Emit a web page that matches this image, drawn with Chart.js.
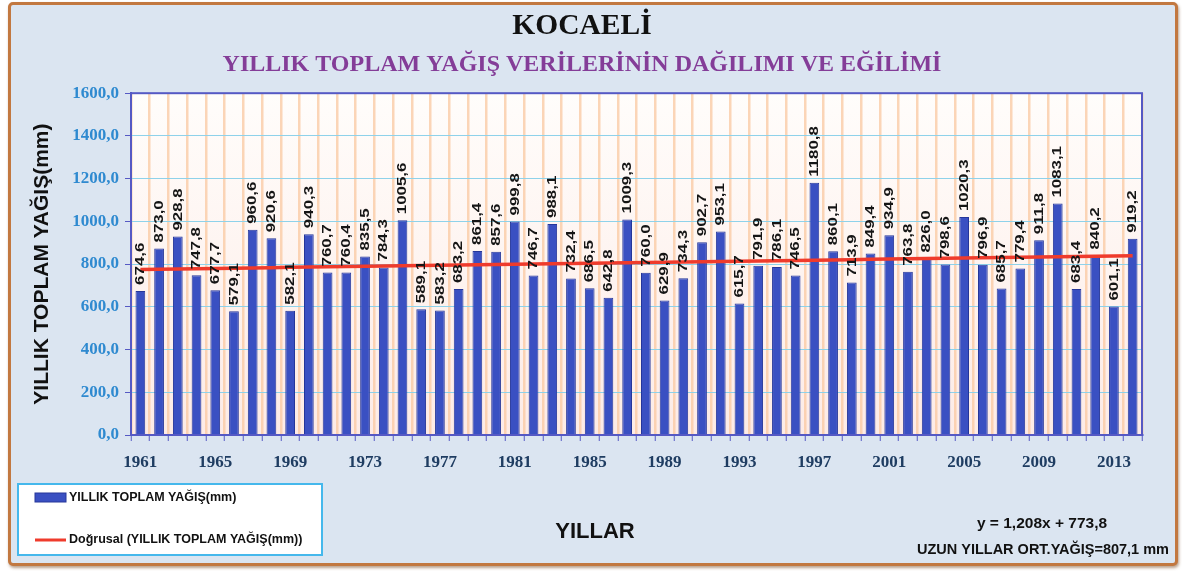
<!DOCTYPE html>
<html lang="tr">
<head>
<meta charset="utf-8">
<script src="https://cdn.jsdelivr.net/npm/chart.js@4"></script>
<style>
  html, body { margin: 0; padding: 0; background: #ffffff; }
  #wrap { position: relative; width: 1194px; height: 572px; overflow: hidden; }
  #frame { position: absolute; left: 8px; top: 2px; width: 1164px; height: 558px;
           border: 3px solid #c27840; border-radius: 5px; background: #dbe5f1;
           box-shadow: 1px 2px 3px rgba(120,70,30,0.5); }
  #c { position: absolute; left: 0; top: 0; }
</style>
</head>
<body>
<div id="wrap">
  <div id="frame"></div>
  <canvas id="c" width="1194" height="572"></canvas>
</div>
<script>
// ---- data ----
const years = [1961,1962,1963,1964,1965,1966,1967,1968,1969,1970,1971,1972,1973,1974,1975,1976,1977,1978,1979,1980,
  1981,1982,1983,1984,1985,1986,1987,1988,1989,1990,1991,1992,1993,1994,1995,1996,1997,1998,1999,2000,
  2001,2002,2003,2004,2005,2006,2007,2008,2009,2010,2011,2012,2013,2014];
const rainfall = [674.6,873.0,928.8,747.8,677.7,579.1,960.6,920.6,582.1,940.3,760.7,760.4,835.5,784.3,1005.6,589.1,583.2,683.2,861.4,857.6,
  999.8,746.7,988.1,732.4,686.5,642.8,1009.3,760.0,629.9,734.3,902.7,953.1,615.7,791.9,786.1,746.5,1180.8,860.1,713.9,849.4,
  934.9,763.8,826.0,798.6,1020.3,796.9,685.7,779.4,911.8,1083.1,683.4,840.2,601.1,919.2];
const trendSlope = 1.208;
const trendIntercept = 773.8;
const yTicks = [0,200,400,600,800,1000,1200,1400,1600];
const titleText = 'KOCAELİ';
const subtitleText = 'YILLIK TOPLAM YAĞIŞ VERİLERİNİN DAĞILIMI VE EĞİLİMİ';
const barLabel = 'YILLIK TOPLAM YAĞIŞ(mm)';
const trendLabel = 'Doğrusal (YILLIK TOPLAM YAĞIŞ(mm))';
const xTitle = 'YILLAR';
const equationText = 'y = 1,208x + 773,8';
const averageText = 'UZUN YILLAR ORT.YAĞIŞ=807,1 mm';

// trend line from the chart's own regression equation (x = 1..n)
const trend = years.map((_, i) => trendSlope * (i + 1) + trendIntercept);
const fmt = v => v.toFixed(1).replace('.', ',');

const bgPlugin = {
  id: 'plotBg',
  beforeDraw(chart) {
    const {ctx, chartArea: a} = chart;
    ctx.save();
    const g = ctx.createLinearGradient(0, a.top, 0, a.bottom);
    g.addColorStop(0, '#fffdfb');
    g.addColorStop(1, '#fdebe6');
    ctx.fillStyle = g;
    ctx.fillRect(a.left, a.top, a.right - a.left, a.bottom - a.top);
    ctx.restore();
  },
  afterDatasetsDraw(chart) {
    const {ctx} = chart;
    const meta = chart.getDatasetMeta(1);
    ctx.save();
    ctx.font = 'bold 13.5px "Liberation Sans", Arial, sans-serif';
    ctx.fillStyle = '#151515';
    ctx.textAlign = 'left';
    ctx.textBaseline = 'middle';
    meta.data.forEach((bar, i) => {
      ctx.save();
      ctx.translate(bar.x, bar.y - 6);
      ctx.rotate(-Math.PI / 2);
      ctx.scale(1.25, 1);
      ctx.fillText(fmt(rainfall[i]), 0, 0);
      ctx.restore();
    });
    ctx.restore();
  },
  afterDraw(chart) {
    const {ctx, chartArea: a} = chart;
    ctx.save();
    // plot border
    ctx.strokeStyle = '#5559c4';
    ctx.lineWidth = 2;
    ctx.strokeRect(a.left, a.top, a.right - a.left, a.bottom - a.top);
    // legend box
    ctx.fillStyle = '#ffffff';
    ctx.fillRect(18, 484, 304, 71);
    ctx.strokeStyle = '#45b8ec';
    ctx.lineWidth = 2;
    ctx.strokeRect(18, 484, 304, 71);
    const ds = chart.data.datasets;
    ctx.fillStyle = ds[1].backgroundColor;
    ctx.fillRect(35, 493, 31, 9);
    ctx.strokeStyle = ds[1].borderColor;
    ctx.lineWidth = 1;
    ctx.strokeRect(35, 493, 31, 9);
    ctx.strokeStyle = ds[0].borderColor;
    ctx.lineWidth = 3;
    ctx.beginPath(); ctx.moveTo(35, 540); ctx.lineTo(66, 540); ctx.stroke();
    ctx.fillStyle = '#111111';
    ctx.font = 'bold 12.5px "Liberation Sans", Arial, sans-serif';
    ctx.textBaseline = 'middle';
    ctx.textAlign = 'left';
    ctx.fillText(ds[1].label, 69, 498);
    ctx.fillText(ds[0].label, 69, 540);
    // x axis title
    ctx.font = 'bold 22px "Liberation Sans", Arial, sans-serif';
    ctx.textAlign = 'center';
    ctx.fillText(xTitle, 595, 532);
    // equation and average
    ctx.font = 'bold 15.5px "Liberation Sans", Arial, sans-serif';
    ctx.fillText(equationText, 1042, 524);
    ctx.font = 'bold 14.5px "Liberation Sans", Arial, sans-serif';
    ctx.textAlign = 'right';
    ctx.fillText(averageText, 1169, 550);
    ctx.restore();
  }
};

new Chart(document.getElementById('c'), {
  data: {
    labels: years,
    datasets: [
      {
        type: 'line', label: trendLabel, data: trend, order: 0,
        borderColor: '#ef3b2c', borderWidth: 3.5, pointRadius: 0, fill: false, tension: 0
      },
      {
        type: 'bar', label: barLabel, data: rainfall, order: 1,
        backgroundColor: '#3a50c2', borderColor: '#26379a', borderWidth: 1,
        barPercentage: 0.52, categoryPercentage: 1.0
      }
    ]
  },
  options: {
    responsive: false,
    animation: false,
    layout: { padding: { left: 22, right: 52, top: 0, bottom: 10 } },
    plugins: {
      legend: { display: false },
      tooltip: { enabled: false },
      title: {
        display: true, text: titleText, color: '#111111',
        font: { family: '"Liberation Serif", "Times New Roman", serif', size: 29.5, weight: 'bold', lineHeight: 1.2 },
        padding: { top: 8.5, bottom: 2 }
      },
      subtitle: {
        display: true, text: subtitleText, color: '#843d98',
        font: { family: '"Liberation Serif", "Times New Roman", serif', size: 24, weight: 'bold', lineHeight: 1.2 },
        padding: { top: 4, bottom: 14.5 }
      }
    },
    scales: {
      x: {
        offset: true,
        grid: { offset: true, color: 'rgba(250,200,160,0.75)', lineWidth: 2.5, drawTicks: true,
                tickLength: 6, tickColor: '#5559c4', tickWidth: 1 },
        border: { color: '#5559c4', width: 2 },
        ticks: {
          autoSkip: false, maxRotation: 0, minRotation: 0, padding: 11,
          color: '#1f3d62',
          font: { family: '"Liberation Serif", "Times New Roman", serif', size: 17, weight: 'bold' },
          callback: function(v, i) { return i % 4 === 0 ? String(years[i]) : ''; }
        },
        afterFit(scale) { scale.height = 127; }
      },
      y: {
        min: 0, max: 1600,
        afterBuildTicks(scale) { scale.ticks = yTicks.map(v => ({ value: v })); },
        grid: { color: '#8ed2ea', lineWidth: 1, drawTicks: true, tickLength: 6, tickColor: '#5559c4' },
        border: { color: '#5559c4', width: 2 },
        ticks: {
          padding: 6, color: '#2f8ad0',
          font: { family: '"Liberation Serif", "Times New Roman", serif', size: 17, weight: 'bold' },
          callback: v => fmt(v)
        },
        title: {
          display: true, text: 'YILLIK TOPLAM YAĞIŞ(mm)', color: '#111111',
          font: { family: '"Liberation Sans", Arial, sans-serif', size: 21, weight: 'bold', lineHeight: 1.2 },
          padding: { top: 8, bottom: 0 }
        },
        afterFit(scale) { scale.width = 109; }
      }
    }
  },
  plugins: [bgPlugin]
});
</script>
</body>
</html>
